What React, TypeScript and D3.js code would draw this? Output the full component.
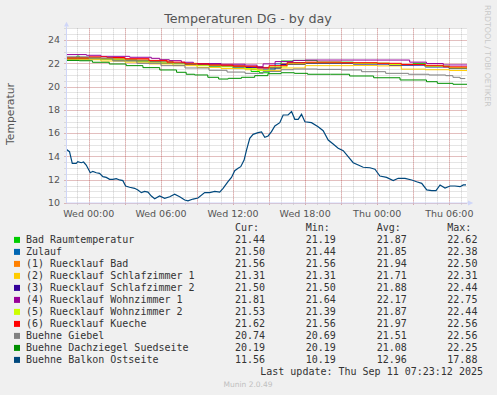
import React from 'react';
import * as d3 from 'd3';

// chart size and plot area (rrdtool style canvas)
const W = 497, H = 395;
const plot = { left: 66.5, right: 467, top: 28.4, bottom: 203 };

// hours relative to Wed 10 Sep 2025 00:00
const startHour = -1.86, endHour = 31.47;

// ---- series data: [hour, °C] ----
const badRaum = [[-1.9,22.38],[-1,22.62],[-0.8,22.4],[2,22.3],[4,22.15],[6,22.0],[8,21.9],[10,21.75],[12,21.55],[13.5,21.3],[14.2,21.19],[15,21.6],[16,22.2],[17,22.25],[19,22.1],[22,22.0],[25,21.87],[27,22.0],[28,21.75],[30,21.55],[31.5,21.44]];
const zulauf = [[-1.9,22.3],[0,22.38],[2,22.25],[4,22.15],[6,22.0],[8,21.9],[10,21.78],[12,21.65],[13.5,21.5],[14.5,21.44],[15.5,21.95],[16.5,22.05],[18,22.0],[22,21.95],[25,21.87],[28,21.7],[30,21.56],[31.5,21.5]];
const rueckBad = [[-1.9,22.5],[1,22.4],[3,22.3],[5,22.2],[7,22.0],[9,21.88],[11,21.8],[13,21.7],[14.5,21.65],[16,21.95],[18,22.05],[22,22.0],[25,21.9],[28,21.75],[30,21.62],[31.5,21.56]];
const rueckSchlaf1 = [[-1.9,22.31],[1,22.2],[3,22.1],[5,21.95],[7,21.8],[9,21.65],[11,21.55],[13,21.45],[14.5,21.4],[16,21.6],[18,21.8],[22,21.82],[24,21.78],[26,21.5],[28,21.45],[30,21.38],[31.5,21.31]];
const rueckSchlaf2 = [[-1.9,22.44],[1,22.35],[3,22.25],[5,22.12],[7,21.97],[9,21.85],[11,21.75],[13,21.65],[14.5,21.6],[16,21.9],[18,22.0],[22,21.95],[25,21.85],[28,21.7],[30,21.56],[31.5,21.5]];
const rueckWohn1 = [[-1.9,22.75],[-0.2,22.69],[1,22.6],[3.4,22.52],[5.2,22.43],[5.9,22.31],[6.7,22.23],[7.7,22.09],[8.7,21.98],[11,21.92],[13,21.85],[14,21.7],[14.5,21.95],[15.5,22.15],[17,22.25],[18,22.28],[23.4,22.28],[26.7,22.1],[28.1,21.98],[29.5,21.86],[31.5,21.81]];
const rueckWohn2 = [[-1.9,22.44],[1,22.35],[3,22.2],[5,22.1],[7,21.95],[9,21.8],[11,21.7],[13,21.55],[14,21.39],[15,21.7],[16.5,21.95],[18,22.05],[22,22.0],[25,21.9],[28,21.75],[30,21.6],[31.5,21.53]];
const rueckKueche = [[-1.9,22.45],[0,22.56],[1.5,22.5],[3,22.4],[5,22.25],[6.5,22.1],[8,21.95],[10,21.85],[12,21.75],[14,21.6],[15,21.8],[16.5,22.05],[18,22.1],[21,22.05],[24,22.0],[26,21.9],[28,21.83],[29.5,21.7],[31.5,21.62]];
const giebel = [[-1.9,22.56],[0,22.45],[2,22.2],[4,22.0],[6,21.8],[8,21.6],[10,21.4],[11.5,21.25],[13,21.14],[14.5,21.3],[16,21.45],[17,21.51],[19,21.48],[21,21.43],[22.7,21.28],[24.7,21.14],[26.6,21.06],[28.3,21.0],[29.7,20.94],[30.3,20.8],[30.9,20.69],[31.3,20.74]];
const dachziegel = [[-1.9,22.25],[-0.8,22.22],[0.3,22.09],[1.7,21.94],[3.1,21.8],[4.5,21.63],[5.9,21.43],[7.3,21.23],[8.1,21.06],[8.8,21.0],[9.9,20.8],[10.8,20.65],[11.6,20.71],[12.7,20.8],[13.8,20.94],[14.9,21.11],[16.0,21.19],[17.1,21.14],[18.2,21.06],[20.1,21.06],[21.7,20.91],[23.7,20.76],[25.9,20.57],[28.1,20.42],[29.0,20.28],[30.3,20.2],[31.5,20.19]];
const balkon = [[-1.88,14.61],[-1.61,14.41],[-1.38,13.41],[-1.05,13.41],[-0.92,13.55],[-0.63,13.46],[-0.44,13.52],[-0.22,13.26],[0.12,12.6],[0.33,12.72],[0.62,12.6],[0.89,12.55],[1.17,12.26],[1.45,12.2],[1.73,12.03],[2.0,12.03],[2.28,12.09],[2.56,11.98],[2.83,11.92],[3.06,11.46],[3.39,11.35],[3.81,11.26],[4.08,11.12],[4.37,10.89],[4.64,11.0],[4.92,10.94],[5.2,10.6],[5.48,10.37],[5.89,10.6],[6.31,10.4],[6.73,10.54],[7.14,10.75],[7.56,10.54],[7.98,10.26],[8.25,10.19],[8.67,10.34],[9.08,10.43],[9.64,10.89],[10.06,10.89],[10.48,11.0],[10.89,10.94],[11.17,11.26],[11.58,11.83],[11.87,12.2],[12.14,12.77],[12.42,12.98],[12.64,13.12],[12.92,13.69],[13.12,14.55],[13.39,15.56],[13.67,15.9],[14.08,16.04],[14.37,16.1],[14.64,15.64],[14.92,15.76],[15.2,16.13],[15.48,16.62],[15.89,16.9],[16.17,17.56],[16.58,17.56],[16.87,17.85],[17.14,17.19],[17.42,17.19],[17.7,17.62],[17.98,16.98],[18.53,16.9],[19.08,16.55],[19.5,16.21],[19.92,15.41],[20.33,15.07],[20.75,14.7],[21.17,14.49],[21.58,13.98],[22.0,13.46],[22.42,13.26],[22.83,13.07],[23.39,13.03],[23.81,12.9],[24.22,12.32],[24.78,12.2],[25.33,11.92],[25.75,12.12],[26.31,12.12],[26.87,11.98],[27.28,11.83],[27.7,11.69],[28.12,11.12],[28.53,11.06],[28.89,11.06],[29.23,11.55],[29.64,11.29],[30.06,11.46],[30.47,11.46],[30.89,11.4],[31.17,11.55],[31.39,11.56]];

// ---- legend ----
const names = ['Bad Raumtemperatur','Zulauf','(1) Ruecklauf Bad','(2) Ruecklauf Schlafzimmer 1','(3) Ruecklauf Schlafzimmer 2','(4) Ruecklauf Wohnzimmer 1','(5) Ruecklauf Wohnzimmer 2','(6) Ruecklauf Kueche','Buehne Giebel','Buehne Dachziegel Suedseite','Buehne Balkon Ostseite'];
const colors = ['#00CC00','#0066B3','#FF8000','#FFCC00','#330099','#990099','#CCFF00','#FF0000','#808080','#008F00','#00487D'];
const curVals = [21.44,21.50,21.56,21.31,21.50,21.81,21.53,21.62,20.74,20.19,11.56];
const minVals = [21.19,21.44,21.56,21.31,21.50,21.64,21.39,21.56,20.69,20.19,10.19];
const avgVals = [21.87,21.85,21.94,21.71,21.88,22.17,21.87,21.97,21.51,21.08,12.96];
const maxVals = [22.62,22.38,22.50,22.31,22.44,22.75,22.44,22.56,22.56,22.25,17.88];
const allSeries = [badRaum,zulauf,rueckBad,rueckSchlaf1,rueckSchlaf2,rueckWohn1,rueckWohn2,rueckKueche,giebel,dachziegel,balkon];

const base = new Date(2025, 8, 10, 0, 0, 0);
const toDate = (h: number) => new Date(base.getTime() + h * 3600000);

export default function App() {
  const x = d3.scaleTime().domain([toDate(startHour), toDate(endHour)]).range([plot.left, plot.right]);
  const y = d3.scaleLinear().domain([10, 25]).range([plot.bottom, plot.top]);

  const minorX = x.ticks(d3.timeHour.every(1) as any);
  const majorX = x.ticks(d3.timeHour.every(3) as any);
  const labelX = x.ticks(d3.timeHour.every(6) as any);
  const minorY = y.ticks(30);
  const majorY = y.ticks(8);
  const fmt = d3.timeFormat('%a %H:%M');

  const line = (i: number) =>
    d3.line<number[]>()
      .x(d => x(toDate(d[0])))
      .y(d => y(d[1]))
      .curve(i === 10 ? d3.curveLinear : d3.curveStepAfter)(allSeries[i] as any) || '';

  const sans = 'DejaVu Sans, sans-serif';
  const mono = 'DejaVu Sans Mono, monospace';
  const rowY = (i: number) => 239.7 + i * 12;
  const cols = [235, 305.7, 376.7, 447.3];

  return (
    <svg width={W} height={H} style={{ position: 'absolute', left: 0, top: 0, background: '#F0F0F0' }}>
      <rect x={0} y={0} width={W} height={H} fill="#F0F0F0" />
      <defs>
        <clipPath id="plotclip">
          <rect x={plot.left} y={plot.top} width={plot.right - plot.left} height={plot.bottom - plot.top} />
        </clipPath>
      </defs>
      <rect x={plot.left} y={plot.top} width={plot.right - plot.left} height={plot.bottom - plot.top} fill="#FFFFFF" />

      {/* minor grid */}
      {minorX.map((t, i) => (
        <line key={'mx' + i} x1={Math.round(x(t)) + 0.5} x2={Math.round(x(t)) + 0.5} y1={plot.top} y2={plot.bottom + 2}
          stroke="rgba(140,140,140,0.45)" strokeDasharray="1,1" />
      ))}
      {minorY.map((v, i) => (
        <line key={'my' + i} y1={Math.round(y(v)) + 0.5} y2={Math.round(y(v)) + 0.5} x1={plot.left - 2} x2={plot.right}
          stroke="rgba(140,140,140,0.45)" strokeDasharray="1,1" />
      ))}
      {/* major grid */}
      {majorX.map((t, i) => (
        <line key={'Mx' + i} x1={Math.round(x(t)) + 0.5} x2={Math.round(x(t)) + 0.5} y1={plot.top} y2={plot.bottom + 2}
          stroke="rgba(224,80,80,0.5)" strokeDasharray="1,1" />
      ))}
      {majorY.map((v, i) => (
        <line key={'My' + i} y1={Math.round(y(v)) + 0.5} y2={Math.round(y(v)) + 0.5} x1={plot.left - 2} x2={plot.right}
          stroke="rgba(224,80,80,0.5)" strokeDasharray="1,1" />
      ))}

      {/* series */}
      <g clipPath="url(#plotclip)">
        {allSeries.map((_, i) => (
          <path key={'s' + i} d={line(i)} fill="none" stroke={colors[i]} strokeWidth={i === 10 ? 1.2 : 1} />
        ))}
      </g>

      {/* axes with arrows */}
      <line x1={plot.left} x2={plot.left} y1={plot.bottom} y2={26.5} stroke="#CFD6F8" />
      <polygon points={`${plot.left - 2.5},26.5 ${plot.left + 2.5},26.5 ${plot.left},21.7`} fill="#CFD6F8" />
      <line x1={plot.left} x2={468} y1={plot.bottom} y2={plot.bottom} stroke="#CFD6F8" />
      <polygon points={`468,${plot.bottom - 2.5} 468,${plot.bottom + 2.5} 473.3,${plot.bottom}`} fill="#CFD6F8" />

      {/* tick labels */}
      {majorY.map((v, i) => (
        <text key={'yl' + i} x={60} y={y(v)} dy="0.35em" textAnchor="end" fontFamily={sans} fontSize={9.5} fill="#555">{v}</text>
      ))}
      {labelX.map((t, i) => (
        <text key={'xl' + i} x={x(t)} y={216.5} textAnchor="middle" fontFamily={sans} fontSize={9.5} fill="#555">{fmt(t)}</text>
      ))}

      {/* titles */}
      <text x={248} y={23.3} textAnchor="middle" fontFamily={sans} fontSize={12.7} fill="#555">Temperaturen DG - by day</text>
      <text transform="translate(14,114) rotate(-90)" textAnchor="middle" fontFamily={sans} fontSize={10.8} fill="#555">Temperatur</text>
      <text transform="translate(485,5) rotate(90)" textAnchor="start" fontFamily={sans} fontSize={7.9} fill="#C8C8C8">RRDTOOL / TOBI OETIKER</text>

      {/* legend */}
      {['Cur:', 'Min:', 'Avg:', 'Max:'].map((h, j) => (
        <text key={'h' + j} x={cols[j]} y={rowY(-1)} dy="0.35em" fontFamily={mono} fontSize={10} fill="#333">{h}</text>
      ))}
      {names.map((n, i) => (
        <g key={'lg' + i}>
          <rect x={14} y={rowY(i) - 2.8} width={6} height={6} fill={colors[i]} />
          <text x={26} y={rowY(i)} dy="0.35em" fontFamily={mono} fontSize={10} fill="#333" style={{ whiteSpace: 'pre' }}>{n}</text>
          {[curVals[i], minVals[i], avgVals[i], maxVals[i]].map((v, j) => (
            <text key={j} x={cols[j]} y={rowY(i)} dy="0.35em" fontFamily={mono} fontSize={10} fill="#333">{v.toFixed(2)}</text>
          ))}
        </g>
      ))}
      <text x={483} y={rowY(11)} dy="0.35em" textAnchor="end" fontFamily={mono} fontSize={10} fill="#333" style={{ whiteSpace: 'pre' }}>Last update: Thu Sep 11 07:23:12 2025</text>
      <text x={248} y={384.3} dy="0.35em" textAnchor="middle" fontFamily={sans} fontSize={7.5} fill="#C0C0C0">Munin 2.0.49</text>
    </svg>
  );
}
